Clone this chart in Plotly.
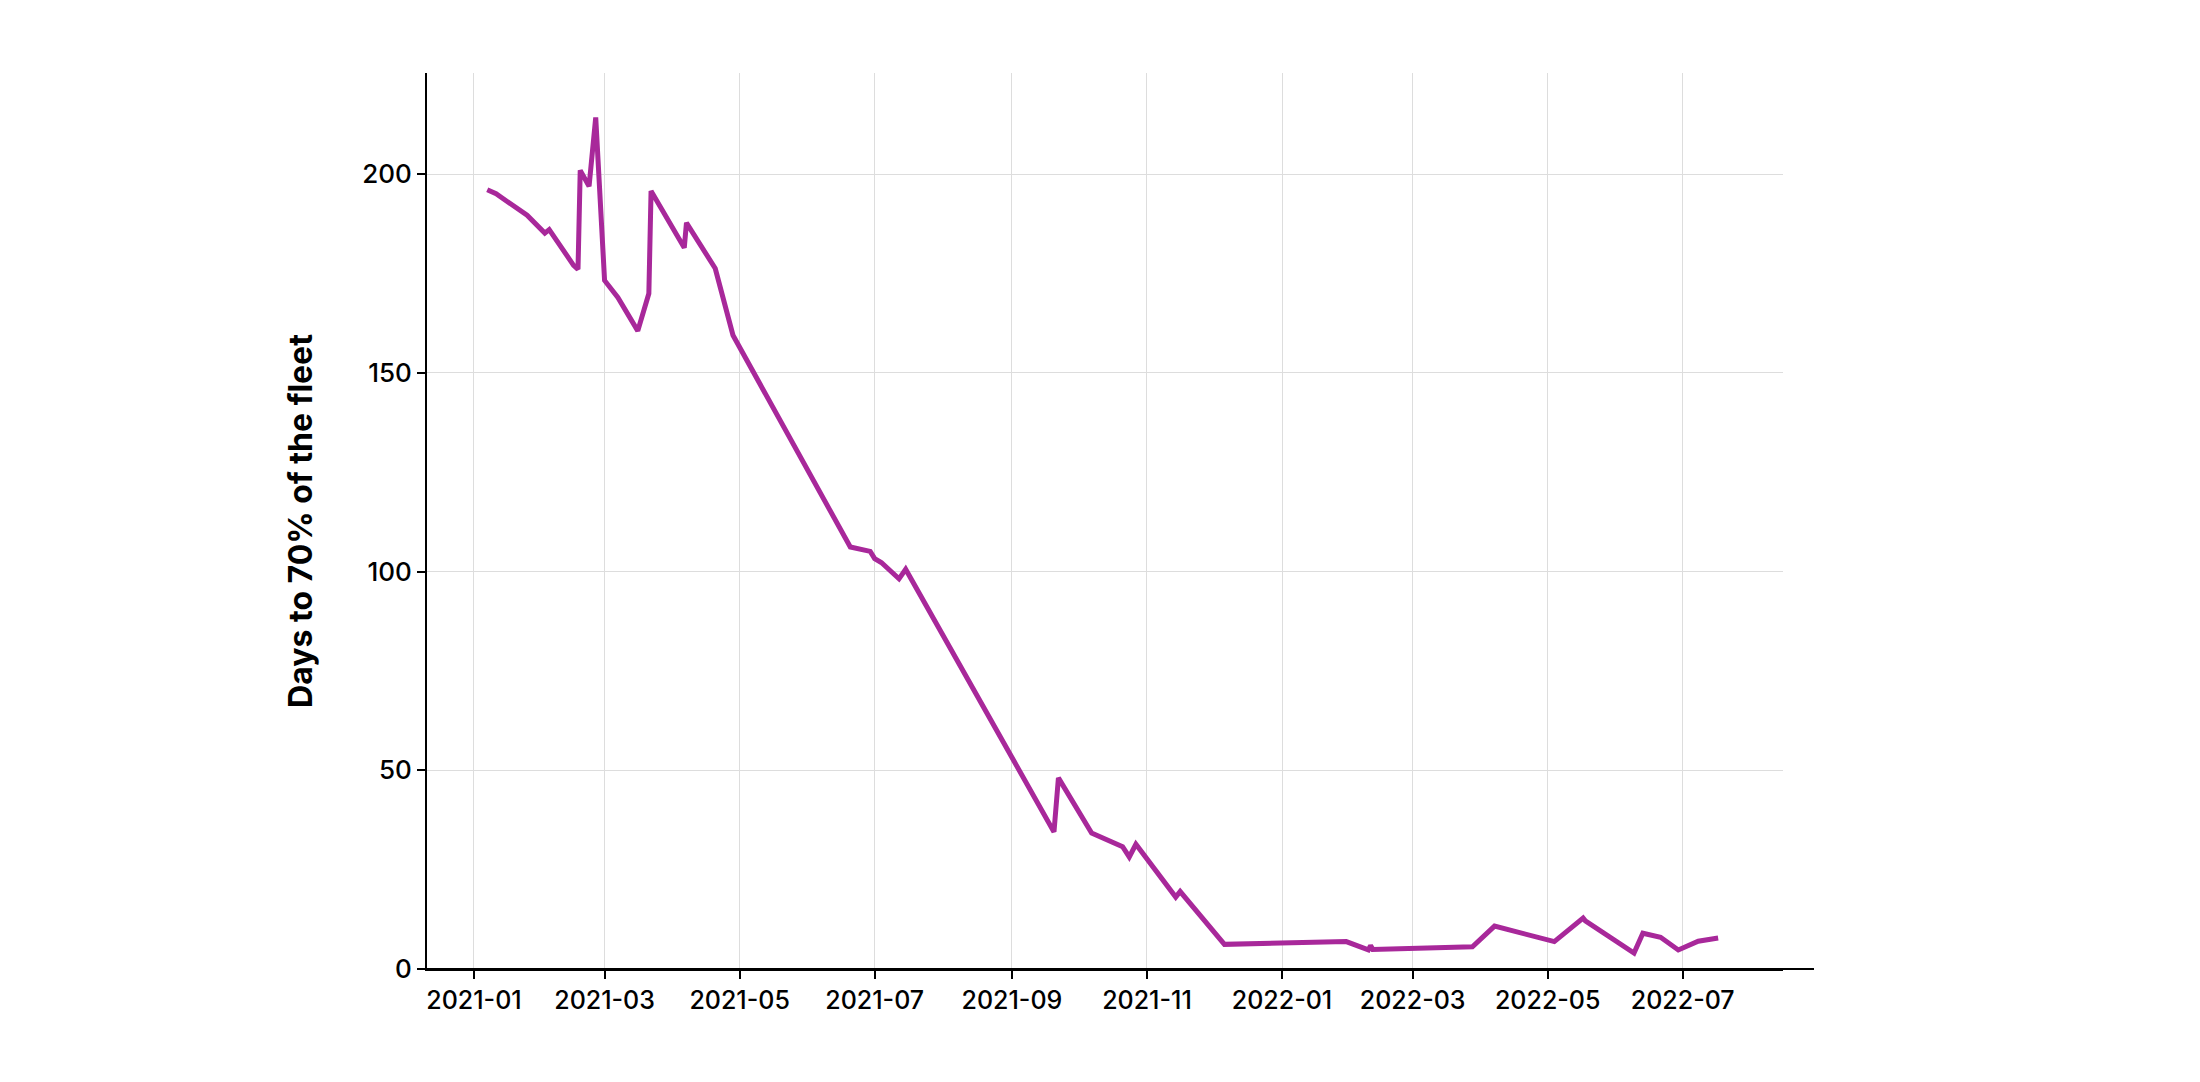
import plotly.graph_objects as go

dates = [
    "2021-01-07", "2021-01-11", "2021-01-25", "2021-02-02", "2021-02-04",
    "2021-02-15", "2021-02-17", "2021-02-18", "2021-02-22", "2021-02-25",
    "2021-03-01", "2021-03-07", "2021-03-16", "2021-03-21", "2021-03-22",
    "2021-04-06", "2021-04-07", "2021-04-19", "2021-04-20", "2021-04-28",
    "2021-06-20", "2021-06-29", "2021-07-01", "2021-07-04", "2021-07-12",
    "2021-07-15", "2021-09-20", "2021-09-22", "2021-10-07", "2021-10-21",
    "2021-10-24", "2021-10-27", "2021-11-14", "2021-11-16", "2021-12-06",
    "2022-01-30", "2022-02-09", "2022-02-10", "2022-02-11", "2022-03-28",
    "2022-04-07", "2022-05-04", "2022-05-17", "2022-05-18", "2022-06-09",
    "2022-06-13", "2022-06-21", "2022-06-29", "2022-07-08", "2022-07-17",
]
days_to_70 = [
    196.1, 195.1, 189.7, 185.2, 186.1,
    177.1, 176.1, 201.0, 197.0, 214.3,
    173.3, 169.0, 160.6, 170.0, 195.8,
    181.5, 187.8, 177.1, 176.3, 159.5,
    106.2, 105.1, 103.3, 102.3, 98.2,
    100.6, 34.5, 48.1, 34.2, 30.8,
    28.2, 31.4, 18.1, 19.5, 6.2,
    6.9, 4.8, 5.9, 4.9, 5.6,
    10.8, 6.9, 12.8, 12.1, 4.0,
    9.0, 8.0, 4.8, 7.0, 7.8,
]

y_title = "Days to 70% of the fleet"
line_color = "#A8289A"
font_family = "Inter, 'Liberation Sans', Arial, sans-serif"

fig = go.Figure()
fig.add_trace(go.Scatter(
    x=dates, y=days_to_70, mode="lines",
    line=dict(color=line_color, width=5),
    showlegend=False,
))

fig.update_layout(
    width=2200, height=1082,
    margin=dict(l=427, r=417, t=73, b=113),
    paper_bgcolor="white", plot_bgcolor="white",
    font=dict(family=font_family, color="black", size=25),
)
fig.update_xaxes(
    range=["2020-12-10 19:00", "2022-08-15 07:00"],
    tick0="2021-01-01", dtick="M2", tickformat="%Y-%m",
    showgrid=True, gridcolor="#dddddd", gridwidth=1,
    showline=True, linecolor="black", linewidth=2,
    ticks="outside", ticklen=8, tickwidth=2, tickcolor="black",
    tickfont=dict(size=25, weight=500),
    zeroline=False,
)
fig.update_yaxes(
    range=[0, 225.5],
    tickvals=[0, 50, 100, 150, 200],
    showgrid=True, gridcolor="#dddddd", gridwidth=1,
    showline=True, linecolor="black", linewidth=2,
    ticks="outside", ticklen=8, tickwidth=2, tickcolor="black",
    tickfont=dict(size=26, weight=500),
    zeroline=False,
    title=dict(text=y_title, font=dict(size=32, weight="bold"), standoff=40),
)
# x-axis spine extends a little past the plotting area, as in the reference
fig.add_shape(
    type="line", xref="paper", yref="paper",
    x0=0, x1=(1814 - 427) / (1783 - 427), y0=0, y1=0,
    line=dict(color="black", width=2),
)

fig.write_html("out.html")
